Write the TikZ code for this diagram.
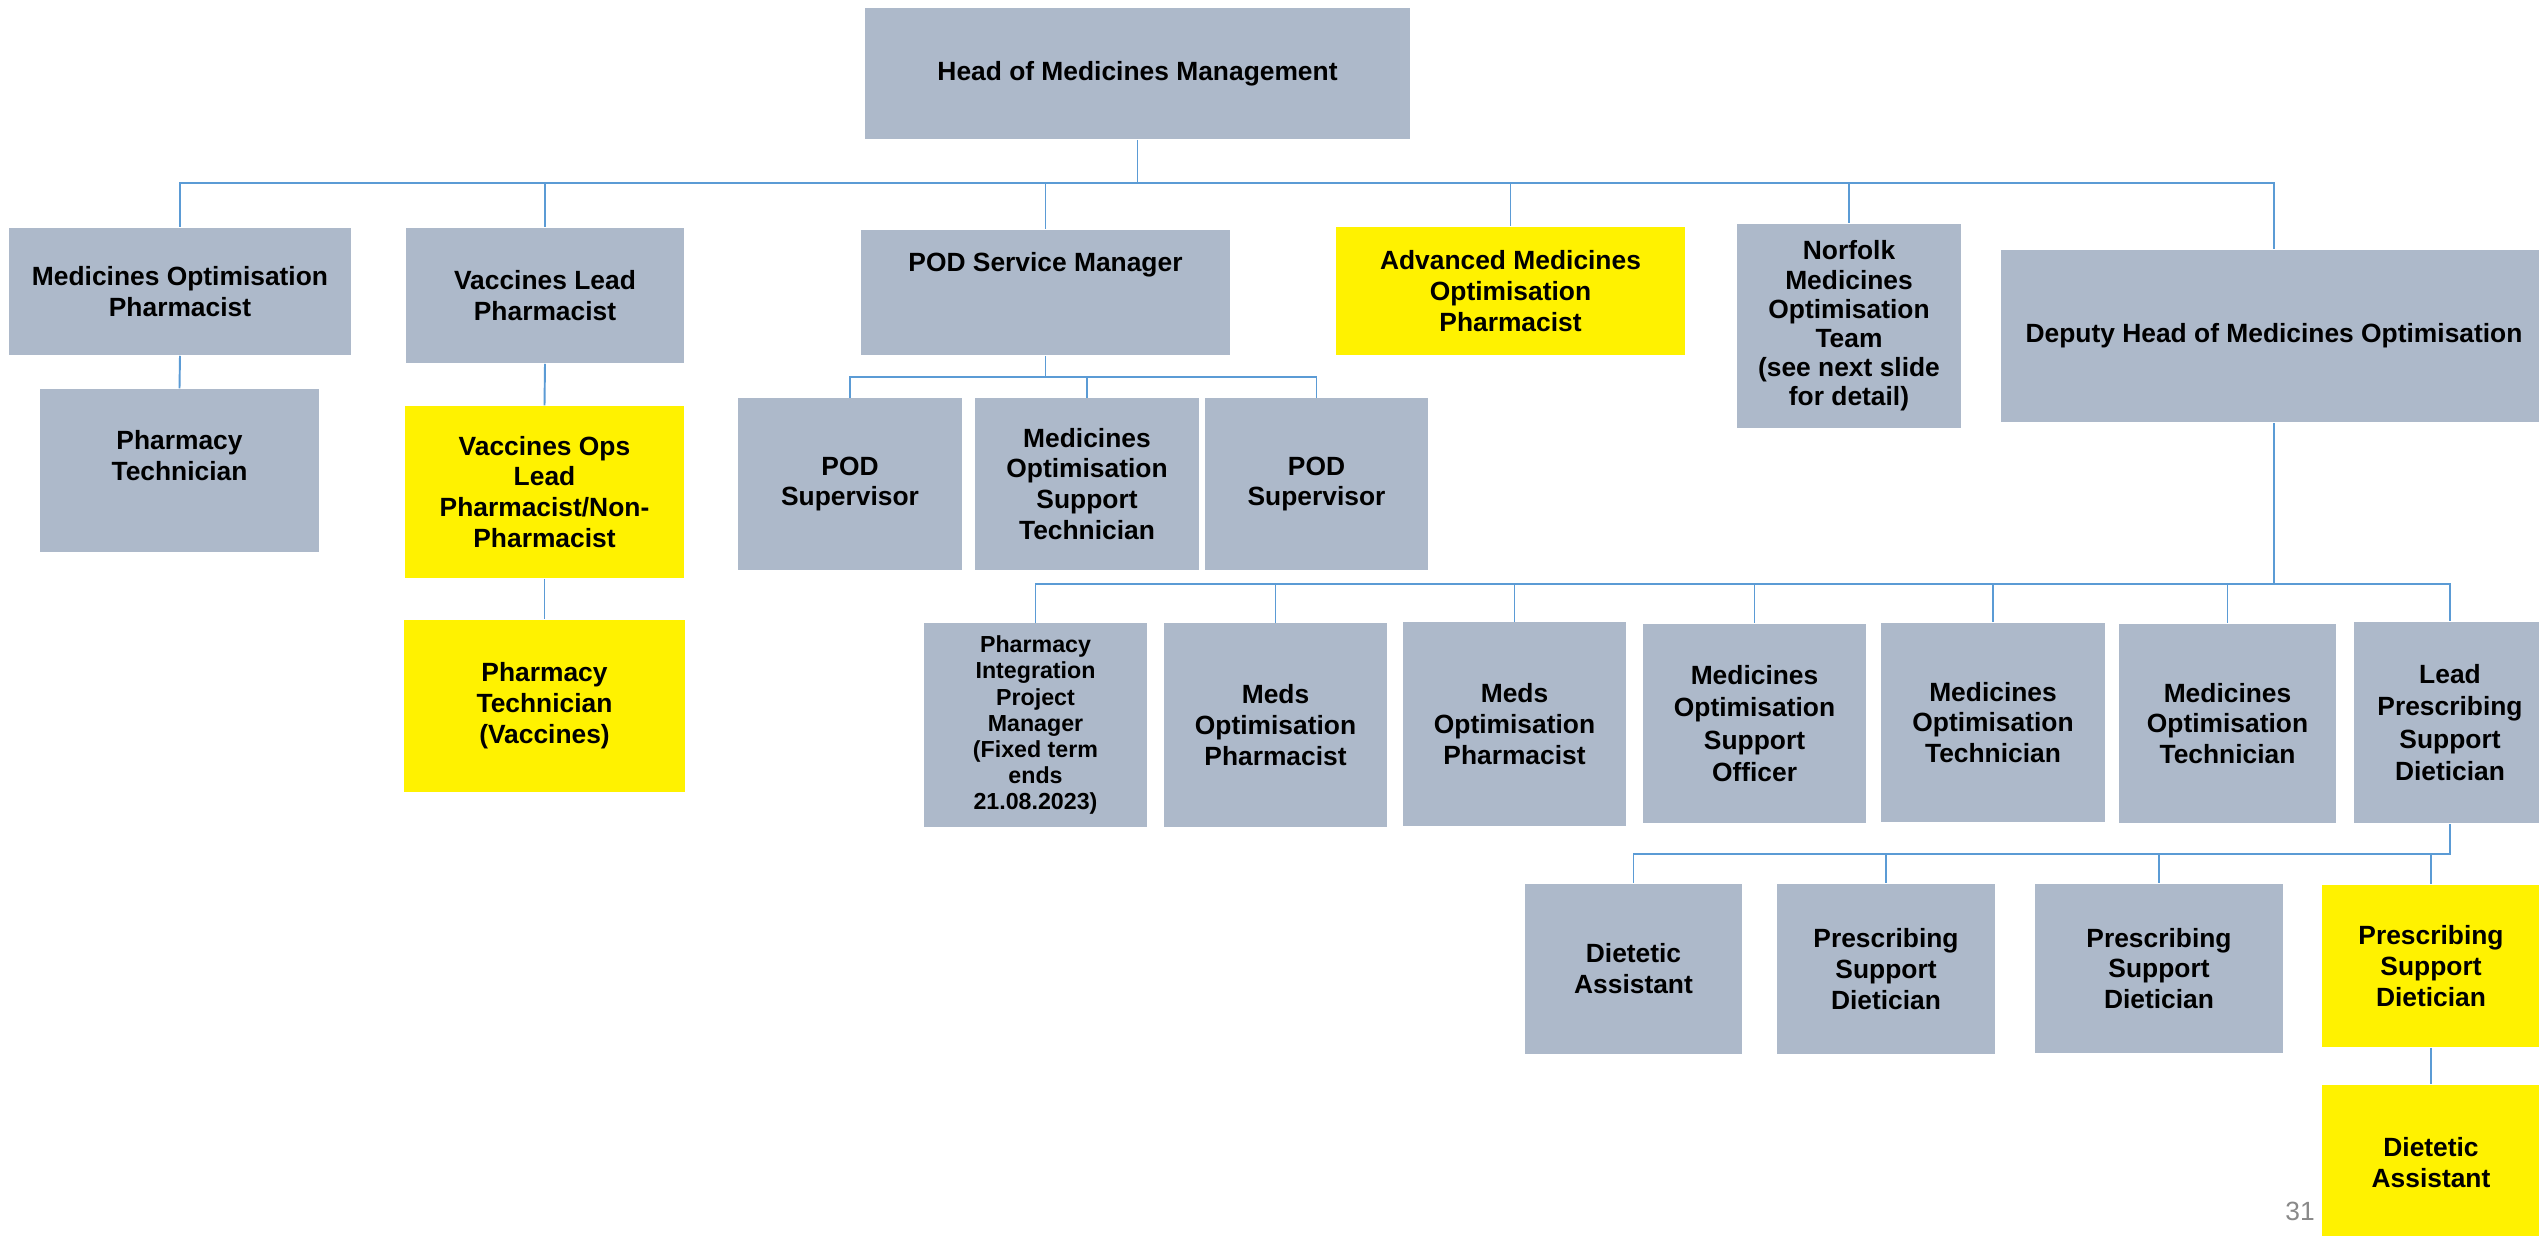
\documentclass[tikz,border=0pt]{standalone}
\usepackage{fontspec}
\setmainfont{Liberation Sans}
\usetikzlibrary{calc}
\definecolor{boxgrey}{RGB}{173,185,202}
\definecolor{linkblue}{RGB}{91,155,213}
\definecolor{pagegrey}{RGB}{137,137,137}
\tikzset{
  greybox/.style={fill=boxgrey, draw=none, align=center, inner sep=0pt,
    font=\fontsize{7.5}{8.8}\selectfont\bfseries},
  yellowbox/.style={greybox, fill=yellow},
  link/.style={draw=linkblue, line width=0.55pt}
}

\begin{document}
\begin{tikzpicture}[x=0.01cm, y=-0.01cm]
			%%%%% PAGE %%%%%
			\path[fill=white, use as bounding box] (0, 0) rectangle (2539, 1235);
			
			%%%%% TOP %%%%%
			\node[greybox, minimum width=5.45cm, minimum height=1.31cm] (head) at (1137.5, 73.5) {Head of Medicines Management};
			
			\node[greybox, minimum width=3.42cm, minimum height=1.27cm] (mop) at (180, 291.5) {Medicines Optimisation\\Pharmacist};
			\node[greybox, minimum width=2.78cm, minimum height=1.35cm] (vlp) at (545, 295.5) {Vaccines Lead\\Pharmacist};
			\node[greybox, minimum width=3.69cm, minimum height=1.25cm] (podsm) at (1045.5, 292.5) {POD Service Manager\\~\\~};
			\node[yellowbox, minimum width=3.49cm, minimum height=1.28cm] (amop) at (1510.5, 291) {Advanced Medicines\\Optimisation\\Pharmacist};
			\node[greybox, minimum width=2.24cm, minimum height=2.04cm, font=\fontsize{7.5}{8.3}\selectfont\bfseries] (nmot) at (1849, 326) {Norfolk\\Medicines\\Optimisation\\Team\\(see next slide\\for detail)};
			\node[greybox, minimum width=5.46cm, minimum height=1.72cm] (dhmo) at (2274, 336) {Deputy Head of Medicines Optimisation};
			
			\coordinate (topbus) at (0, 183);
			\draw[link] (head.south) -- (head.south |- topbus) -| (mop.north);
			\draw[link] (head.south |- topbus) -| (vlp.north);
			\draw[link] (head.south |- topbus) -| (podsm.north);
			\draw[link] (head.south |- topbus) -| (amop.north);
			\draw[link] (head.south |- topbus) -| (nmot.north);
			\draw[link] (head.south |- topbus) -| (dhmo.north);
			
			%%%%% LEFT %%%%%
			\node[greybox, minimum width=2.79cm, minimum height=1.63cm] (pt) at (179.5, 470.5) {Pharmacy\\Technician\\~};
			\node[yellowbox, minimum width=2.78cm, minimum height=1.72cm] (vol) at (544.5, 492) {Vaccines Ops\\Lead\\Pharmacist/Non-\\Pharmacist};
			\node[yellowbox, minimum width=2.80cm, minimum height=1.72cm] (ptv) at (544.5, 706) {Pharmacy\\Technician\\(Vaccines)};
			
			\draw[link] (mop.south) -- (pt.north);
			\draw[link] (vlp.south) -- (vol.north);
			\draw[link] (vol.south) -- (ptv.north);
			
			%%%%% POD %%%%%
			\node[greybox, minimum width=2.24cm, minimum height=1.71cm] (pods1) at (850, 484) {POD\\Supervisor};
			\node[greybox, minimum width=2.24cm, minimum height=1.71cm] (most) at (1087, 484) {Medicines\\Optimisation\\Support\\Technician};
			\node[greybox, minimum width=2.23cm, minimum height=1.71cm] (pods2) at (1316.5, 484) {POD\\Supervisor};
			
			\coordinate (podbus) at (0, 377);
			\draw[link] (podsm.south) -- (podsm.south |- podbus) -| (pods1.north);
			\draw[link] (podsm.south |- podbus) -| (most.north);
			\draw[link] (podsm.south |- podbus) -| (pods2.north);
			
			%%%%% DEPUTY %%%%%
			\node[greybox, minimum width=2.23cm, minimum height=2.03cm, font=\fontsize{6.6}{7.4}\selectfont\bfseries] (pipm) at (1035.5, 725) {Pharmacy\\Integration\\Project\\Manager\\(Fixed term\\ends\\21.08.2023)};
			\node[greybox, minimum width=2.23cm, minimum height=2.03cm] (meds1) at (1275.5, 725) {Meds\\Optimisation\\Pharmacist};
			\node[greybox, minimum width=2.23cm, minimum height=2.03cm] (meds2) at (1514.5, 724) {Meds\\Optimisation\\Pharmacist};
			\node[greybox, minimum width=2.23cm, minimum height=1.99cm, font=\fontsize{7.5}{9.2}\selectfont\bfseries] (moso) at (1754.5, 723.5) {Medicines\\Optimisation\\Support\\Officer};
			\node[greybox, minimum width=2.24cm, minimum height=1.99cm] (mot1) at (1993, 722.5) {Medicines\\Optimisation\\Technician};
			\node[greybox, minimum width=2.17cm, minimum height=1.99cm] (mot2) at (2227.5, 723.5) {Medicines\\Optimisation\\Technician};
			\node[greybox, minimum width=1.92cm, minimum height=2.01cm, font=\fontsize{7.5}{9.2}\selectfont\bfseries] (lpsd) at (2450, 722.5) {Lead\\Prescribing\\Support\\Dietician};
			
			\coordinate (depbus) at (0, 584);
			\draw[link] (dhmo.south) -- (dhmo.south |- depbus) -| (pipm.north);
			\draw[link] (dhmo.south |- depbus) -| (meds1.north);
			\draw[link] (dhmo.south |- depbus) -| (meds2.north);
			\draw[link] (dhmo.south |- depbus) -| (moso.north);
			\draw[link] (dhmo.south |- depbus) -| (mot1.north);
			\draw[link] (dhmo.south |- depbus) -| (mot2.north);
			\draw[link] (dhmo.south |- depbus) -| (lpsd.north);
			
			%%%%% DIETICIANS %%%%%
			\node[greybox, minimum width=2.17cm, minimum height=1.70cm] (da) at (1633.5, 969) {Dietetic\\Assistant};
			\node[greybox, minimum width=2.18cm, minimum height=1.70cm] (psd1) at (1886, 969) {Prescribing\\Support\\Dietician};
			\node[greybox, minimum width=2.48cm, minimum height=1.69cm] (psd2) at (2159, 968.5) {Prescribing\\Support\\Dietician};
			\node[yellowbox, minimum width=2.18cm, minimum height=1.62cm] (ypsd) at (2431, 966) {Prescribing\\Support\\Dietician};
			\node[yellowbox, minimum width=2.18cm, minimum height=1.56cm] (yda) at (2431, 1163) {Dietetic\\Assistant};
			
			\coordinate (dietbus) at (0, 854);
			\draw[link] (lpsd.south) -- (lpsd.south |- dietbus) -| (da.north);
			\draw[link] (lpsd.south |- dietbus) -| (psd1.north);
			\draw[link] (lpsd.south |- dietbus) -| (psd2.north);
			\draw[link] (lpsd.south |- dietbus) -| (ypsd.north);
			\draw[link] (ypsd.south) -- (yda.north);
			
			\node[text=pagegrey, font=\fontsize{7.5}{9}\selectfont] (pageno) at (2300, 1211) {31};
			
			%%%%% END %%%%%
\end{tikzpicture}
\end{document}
